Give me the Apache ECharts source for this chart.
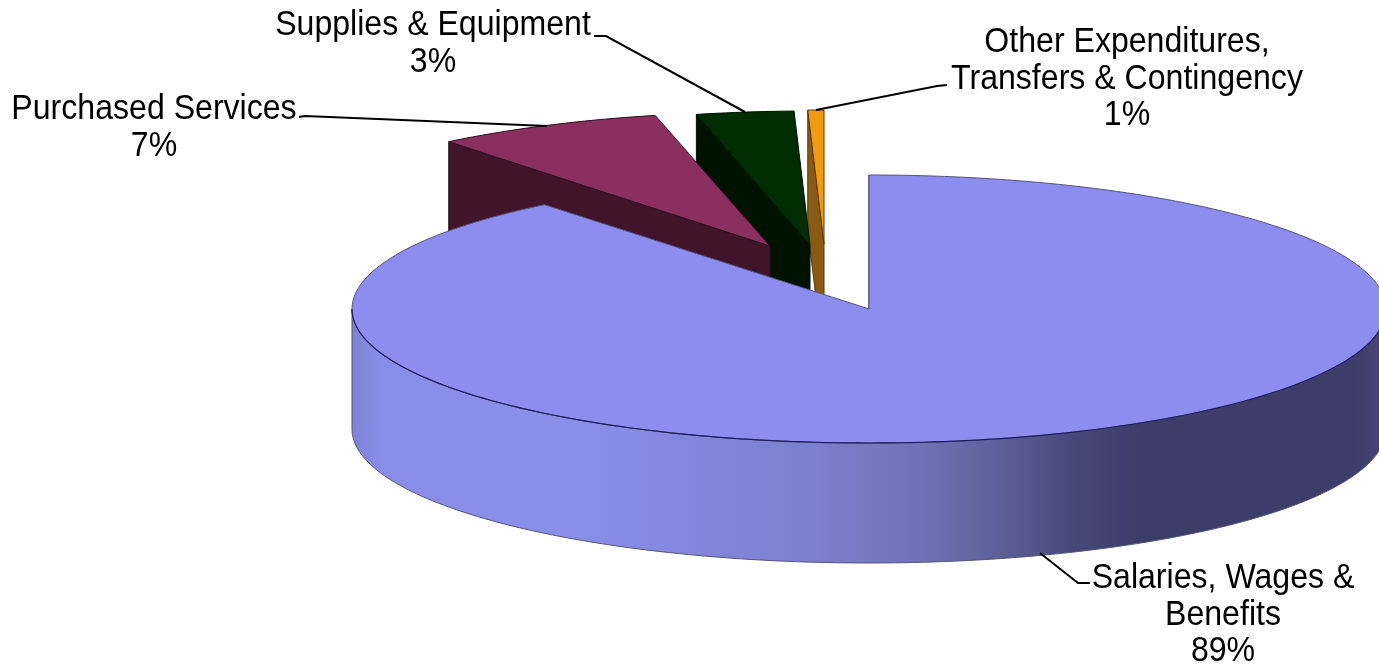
<!DOCTYPE html>
<html>
<head>
<meta charset="utf-8">
<style>html,body{margin:0;padding:0;background:#fff}#chart{width:1379px;height:668px}</style>
<script src="https://cdn.jsdelivr.net/npm/echarts@6/dist/echarts.min.js"></script>
</head>
<body>
<div id="chart"></div>
<script>
// Data
const categories = ['Salaries, Wages &\nBenefits', 'Purchased Services', 'Supplies & Equipment', 'Other Expenditures,\nTransfers & Contingency'];
const shares = [89.2, 7.2, 3.1, 0.5];

// Presentation
const topColors = ['#8C8DEF', '#8B2F5F', '#002D02', '#F29A12'];
const faceColors = ['#8C8DEF', '#41142B', '#001200', '#8A5A12'];
const edgeColors = ['#55557A', '#2A1020', '#001000', '#5A3A08'];
const explodeOffsets = [[0, 0], [-99, -63], [-59, -64], [-45, -65]];
const radiusScale = [1, 0.99, 0.98, 1];
const stacking = [4, 3, 2, 1];
const labelAnchors = [[1223, 615], [154, 128], [433, 44], [1127, 79]];
const leaderPaths = [
  [[1040, 553], [1078, 583], [1090, 583]],
  [[299, 117], [305, 116], [547, 126]],
  [[594, 36], [606, 36], [745, 112]],
  [[947, 85], [937, 86], [816, 110]]
];
const CX = 869, CY = 309, RX = 517, RY = 134, DEPTH = 120;
const wallStops = [
  [0, '#7F83D6'], [0.03, '#898DE8'], [0.2, '#8B8FE8'], [0.3, '#8688E0'], [0.45, '#7C7ECE'],
  [0.55, '#7072B8'], [0.63, '#5C5E96'], [0.7, '#46487A'], [0.76, '#3C3D68'], [0.97, '#3C3D68'], [1, '#46487A']
];

const total = shares.reduce((a, b) => a + b, 0);
const starts = [];
shares.reduce((acc, v, i) => { starts[i] = acc; return acc + v; }, 0);

function rimPoint(cx, cy, pct, k) {
  const a = pct / total * Math.PI * 2;
  return [cx + RX * k * Math.sin(a), cy - RY * Math.cos(a)];
}
function arcPoints(cx, cy, from, to, k) {
  const n = Math.max(2, Math.ceil((to - from) * 3));
  const pts = [];
  for (let j = 0; j <= n; j++) pts.push(rimPoint(cx, cy, from + (to - from) * j / n, k));
  return pts;
}
const down = p => [p[0], p[1] + DEPTH];

function renderSlice(params, api) {
  const i = params.dataIndex;
  const from = starts[i], to = from + api.value(0);
  const cx = CX + explodeOffsets[i][0], cy = CY + explodeOffsets[i][1], k = radiusScale[i];
  const rim = arcPoints(cx, cy, from, to, k);
  const z = stacking[i] * 10;
  const children = [];
  const edge = { stroke: edgeColors[i], lineWidth: 1 };

  // face along the first cut edge
  const p0 = rim[0], tip = [cx, cy];
  children.push({ type: 'polygon', z2: z,
    shape: { points: [p0, tip, down(tip), down(p0)] },
    style: Object.assign({ fill: faceColors[i] }, edge) });

  // outer wall on the front half of the rim
  const wFrom = Math.max(from, total * 0.25), wTo = Math.min(to, total * 0.75);
  let front = null;
  if (wTo > wFrom) {
    front = arcPoints(cx, cy, wFrom, wTo, k);
    children.push({ type: 'polygon', z2: z + 1,
      shape: { points: front.concat(front.map(down).reverse()) },
      style: Object.assign({
        fill: new echarts.graphic.LinearGradient(CX - RX, 0, CX + RX, 0,
          wallStops.map(s => ({ offset: s[0], color: s[1] })), true)
      }, edge) });
  }

  // top
  children.push({ type: 'polygon', z2: z + 2,
    shape: { points: rim.concat([tip]) },
    style: Object.assign({ fill: topColors[i] }, edge) });
  if (front) {
    children.push({ type: 'polyline', z2: z + 3,
      shape: { points: front },
      style: { fill: null, stroke: '#1E1E62', lineWidth: 1.2 } });
  }

  // leader and label
  children.push({ type: 'polyline', z2: 100,
    shape: { points: leaderPaths[i] },
    style: { fill: null, stroke: '#000', lineWidth: 2 } });
  children.push({ type: 'text', z2: 101,
    x: labelAnchors[i][0], y: labelAnchors[i][1], scaleX: 0.93, scaleY: 1,
    style: {
      text: categories[i] + '\n' + Math.round(api.value(0)) + '%',
      align: 'center', verticalAlign: 'middle', textAlign: 'center', textVerticalAlign: 'middle',
      fontFamily: '"Liberation Sans", Arial, sans-serif', fontSize: 34.5, lineHeight: 36.5, fill: '#000'
    } });
  return { type: 'group', children };
}

const chart = echarts.init(document.getElementById('chart'));
chart.setOption({
  animation: false,
  backgroundColor: '#fff',
  series: [{
    type: 'custom',
    coordinateSystem: 'none',
    silent: true,
    clip: false,
    renderItem: renderSlice,
    data: shares.map((v, i) => ({ name: categories[i], value: [v] }))
  }]
});
</script>
</body>
</html>
